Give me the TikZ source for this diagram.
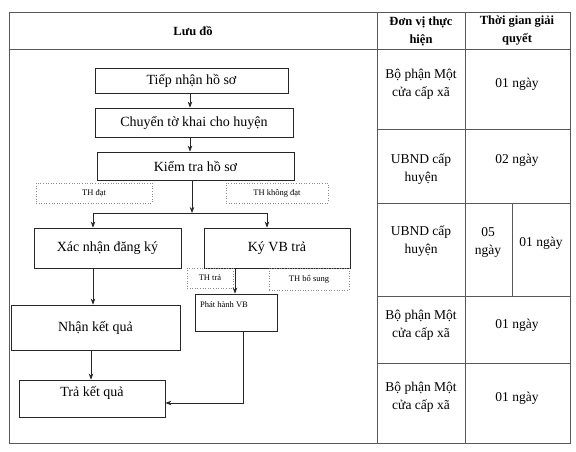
\documentclass[tikz,border=0pt]{standalone}
\usepackage{fontspec}
\setmainfont{Liberation Serif}
\usetikzlibrary{arrows.meta}
\begin{document}
\begin{tikzpicture}[x=1pt,y=-1pt,
  box/.style={draw=black!85,line width=0.8pt,inner sep=0pt,font=\fontsize{14}{16}\selectfont},
  lbl/.style={draw=black!45,dotted,line width=0.6pt,inner sep=0pt,font=\fontsize{8.5}{9}\selectfont},
  cell/.style={align=center,font=\fontsize{13.5}{18}\selectfont},
  head/.style={align=center,font=\bfseries\fontsize{12.5}{18}\selectfont},
  arr/.style={draw=black!85,line width=0.7pt,-{Stealth[length=6pt,width=4.5pt]}},
  ln/.style={draw=black!85,line width=0.7pt},
  grid/.style={draw=black!65,line width=0.7pt}]
\useasboundingbox (0,0) rectangle (576,452);
\fill[white] (0,0) rectangle (576,452);
% table
\draw[grid] (9,12) rectangle (570,443);
\draw[grid] (377,12) -- (377,443);
\draw[grid] (465,12) -- (465,443);
\draw[grid] (9,49) -- (570,49);
\draw[grid] (377,129) -- (570,129);
\draw[grid] (377,203) -- (570,203);
\draw[grid] (377,296) -- (570,296);
\draw[grid] (377,363) -- (570,363);
\draw[grid] (512,203) -- (512,296);
% headers
\node[head] (h1) at (193,31) {Lưu đồ};
\node[head] (h2) at (421,31) {Đơn vị thực\\hiện};
\node[head] (h3) at (517,31) {Thời gian giải\\quyết};
% right column cells
\node[cell] (u1) at (421,84) {Bộ phận Một\\cửa cấp xã};
\node[cell] (d1) at (517,84) {01 ngày};
\node[cell] (u2) at (421,169) {UBND cấp\\huyện};
\node[cell] (d2) at (517,160) {02 ngày};
\node[cell] (u3) at (421,241) {UBND cấp\\huyện};
\node[cell] (d3a) at (488,242) {05\\ngày};
\node[cell] (d3b) at (541,243) {01 ngày};
\node[cell] (u4) at (421,325) {Bộ phận Một\\cửa cấp xã};
\node[cell] (d4) at (517,325) {01 ngày};
\node[cell] (u5) at (421,397) {Bộ phận Một\\cửa cấp xã};
\node[cell] (d5) at (517,398) {01 ngày};
% flowchart
\node[box,minimum width=193,minimum height=25] (t1) at (191.5,80.5) {Tiếp nhận hồ sơ};
\node[box,minimum width=198,minimum height=29] (t2) at (194,122.5) {Chuyển tờ khai cho huyện};
\node[box,minimum width=197,minimum height=28] (t3) at (195.5,166) {Kiểm tra hồ sơ};
\node[lbl,minimum width=116,minimum height=20] (dat) at (94,193) {TH đạt};
\node[lbl,minimum width=102,minimum height=20] (kdat) at (277,193) {TH không đạt};
\node[box,minimum width=147,minimum height=40] (xn) at (107.5,248) {Xác nhận đăng ký};
\node[box,minimum width=146,minimum height=40] (ky) at (277,248) {Ký VB trả};
\node[lbl,minimum width=46,minimum height=20] (tra) at (210,278) {TH trả};
\node[lbl,minimum width=80,minimum height=22] (bs) at (309,279) {TH bổ sung};
\node[box,minimum width=82,minimum height=37] (ph) at (236,312.5) {};
\node[font=\fontsize{8.5}{9}\selectfont,anchor=west,inner sep=0pt] (phl) at (200,305) {Phát hành VB};
\node[box,minimum width=169,minimum height=45] (nkq) at (95.5,327.5) {Nhận kết quả};
\node[box,minimum width=146,minimum height=37] (tkq) at (92,398.5) {};
\node[font=\fontsize{14}{16}\selectfont,inner sep=0pt] (tkql) at (92,393) {Trả kết quả};
% connectors
\coordinate (j) at (192,213);
\coordinate (jl) at (93,213);
\coordinate (jr) at (267,213);
\coordinate (c1) at (243,403);
\draw[arr] (t1.south -| 190,0) -- (t2.north -| 190,0);
\draw[arr] (t2.south -| 190,0) -- (t3.north -| 190,0);
\draw[arr] (t3.south -| j) -- (j);
\draw[ln] (jl) -- (jr);
\draw[arr] (jl) -- (xn.north -| jl);
\draw[arr] (jr) -- (ky.north -| jr);
\draw[arr] (xn.south -| 93,0) -- (nkq.north -| 93,0);
\draw[arr] (nkq.south -| 91,0) -- (tkq.north -| 91,0);
\draw[arr] (ky.south -| 235,0) -- (ph.north -| 235,0);
\draw[arr] (ph.south -| c1) -- (c1) -- (tkq.east |- c1);
\end{tikzpicture}
\end{document}
